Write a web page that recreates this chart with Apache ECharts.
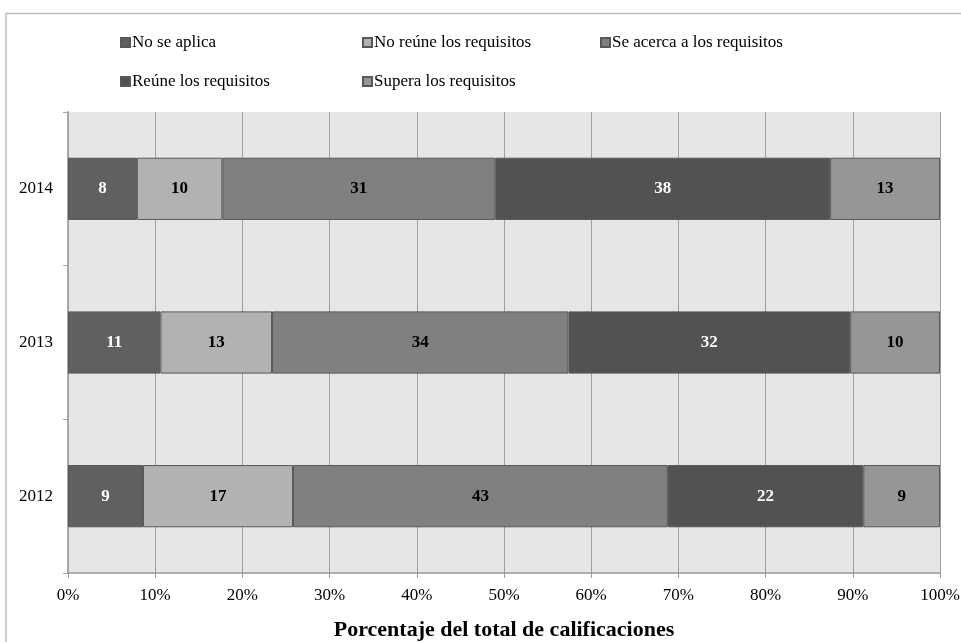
<!DOCTYPE html>
<html>
<head>
<meta charset="utf-8">
<script src="https://cdn.jsdelivr.net/npm/echarts@6/dist/echarts.min.js"></script>
<style>
html,body{margin:0;padding:0;background:#fff;}
#c{width:961px;height:642px;}
</style>
</head>
<body>
<div id="c"></div>
<script>
var years = ['2012', '2013', '2014'];
var seriesNames = ['No se aplica', 'No reúne los requisitos', 'Se acerca a los requisitos', 'Reúne los requisitos', 'Supera los requisitos'];
var noSeAplica = [8.6, 10.6, 7.9];
var noReune = [17.2, 12.8, 9.8];
var seAcerca = [43.0, 34.0, 31.3];
var reune = [22.4, 32.3, 38.4];
var supera = [8.8, 10.3, 12.6];
var xTicks = [0, 10, 20, 30, 40, 50, 60, 70, 80, 90, 100];
var axisTitle = 'Porcentaje del total de calificaciones';

var values = [noSeAplica, noReune, seAcerca, reune, supera];
var colors = ['#606060', '#b2b2b2', '#808080', '#525252', '#969696'];
var labelColors = ['#ffffff', '#000000', '#000000', '#ffffff', '#000000'];
var font = 'Liberation Serif';

var series = values.map(function (v, i) {
  return {
    name: seriesNames[i],
    type: 'bar',
    stack: 'total',
    barWidth: '40.5%',
    data: v,
    itemStyle: { color: colors[i], borderColor: '#585858', borderWidth: 1 },
    emphasis: { disabled: true },
    label: {
      show: true,
      position: 'inside',
      color: labelColors[i],
      fontFamily: font,
      fontWeight: 'bold',
      fontSize: 17,
      formatter: function (p) { return Math.round(p.value); }
    }
  };
});

var legendPos = [[120, 34], [362, 34], [600, 34], [120, 73], [362, 73]];
var legends = seriesNames.map(function (n, i) {
  return {
    data: [n],
    left: legendPos[i][0],
    top: legendPos[i][1],
    itemWidth: 9,
    itemHeight: 9,
    itemGap: 0,
    icon: 'rect',
    padding: 0,
    textStyle: { fontFamily: font, fontSize: 17, color: '#000', padding: [0, 0, 0, -3] },
    selectedMode: false
  };
});

var chart = echarts.init(document.getElementById('c'), null, { renderer: 'canvas' });
chart.setOption({
  animation: false,
  backgroundColor: '#ffffff',
  graphic: [{
    type: 'rect',
    shape: { x: 6, y: 13.5, width: 980, height: 660 },
    style: { fill: 'none', stroke: '#bdbdbd', lineWidth: 1.5 },
    silent: true,
    z: -10
  }],
  legend: legends,
  grid: {
    left: 68, right: 21, top: 112, bottom: 69,
    containLabel: false,
    outerBoundsMode: 'none',
    show: true, backgroundColor: '#e6e6e6', borderWidth: 0
  },
  xAxis: {
    type: 'value',
    min: xTicks[0],
    max: xTicks[xTicks.length - 1],
    interval: xTicks[1] - xTicks[0],
    name: axisTitle,
    nameLocation: 'middle',
    nameGap: 46,
    nameTextStyle: { fontFamily: font, fontWeight: 'bold', fontSize: 22, color: '#000' },
    axisLine: { show: true, lineStyle: { color: '#9a9a9a', width: 1.5 } },
    axisTick: { show: true, length: 5, lineStyle: { color: '#9a9a9a' } },
    axisLabel: { fontFamily: font, fontSize: 17, color: '#000', margin: 14, formatter: '{value}%' },
    splitLine: { show: true, lineStyle: { color: '#a0a0a0', width: 1 } }
  },
  yAxis: {
    type: 'category',
    data: years,
    axisLine: { show: true, lineStyle: { color: '#a6a6a6', width: 2 } },
    axisTick: { show: true, length: 5, lineStyle: { color: '#a6a6a6' } },
    axisLabel: { fontFamily: font, fontSize: 17, color: '#000', margin: 15 },
    splitLine: { show: false }
  },
  series: series
});
</script>
</body>
</html>
